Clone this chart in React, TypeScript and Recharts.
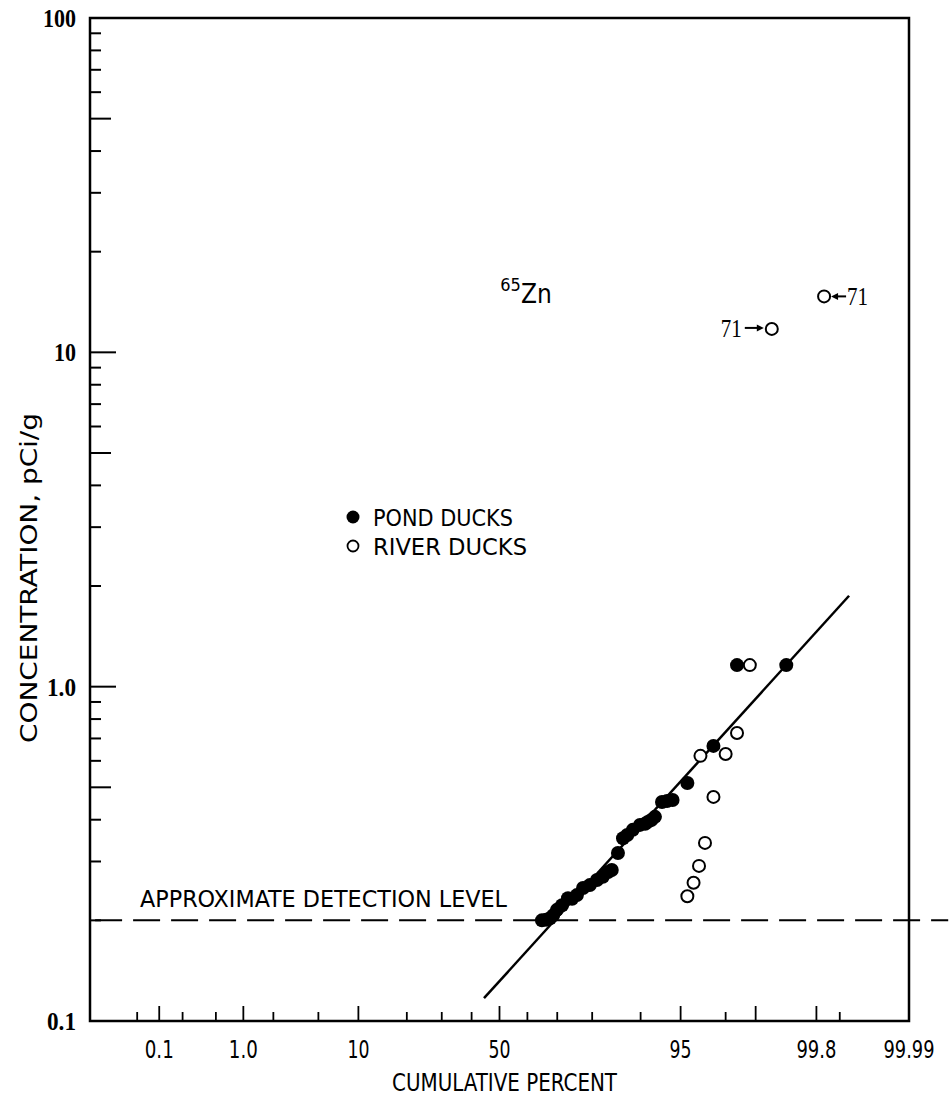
import React from "react";
import {
  ScatterChart,
  Scatter,
  XAxis,
  YAxis,
  ReferenceLine,
  ReferenceArea,
  ReferenceDot,
  Legend,
} from "recharts";

// cumulative percent (probability scale) vs 65Zn concentration, pCi/g
const pondPercent = [
  65.0, 66.4, 67.7, 68.7, 69.9, 71.5, 73.3, 74.5, 75.9, 77.6, 79.4, 81.2, 82.6, 83.8, 84.6,
  85.9, 86.9, 87.7, 88.7, 89.9, 90.7, 91.1, 91.6, 92.1, 93.0, 93.6, 94.2, 95.6, 97.4, 98.45, 99.54,
];
const pondConc = [
  0.2, 0.201, 0.203, 0.207, 0.215, 0.222, 0.233, 0.232, 0.238, 0.25, 0.255, 0.264, 0.27, 0.279, 0.283,
  0.318, 0.352, 0.36, 0.373, 0.386, 0.389, 0.394, 0.399, 0.408, 0.452, 0.455, 0.458, 0.515, 0.665, 1.16, 1.16,
];

const riverPercent = [95.6, 96.1, 96.5, 96.9, 97.4, 96.6, 98.0, 98.45, 98.85, 99.33, 99.84];
const riverConc = [0.236, 0.259, 0.291, 0.341, 0.468, 0.621, 0.629, 0.727, 1.16, 11.75, 14.7];

const fitPercent = [44.4, 99.925];
const fitConc = [0.117, 1.87];

const detectionLevel = 0.2;
const detectionSpan = [0.012, 99.9977];

const xDomainPercent = [0.01, 99.99];
const xTickPercents = [0.05, 0.1, 0.2, 0.5, 1, 2, 5, 10, 20, 30, 40, 50, 60, 70, 80, 90, 95, 98, 99, 99.8, 99.9, 99.99];
const xTickLabels: Record<string, string> = {
  "0.1": "0.1",
  "1": "1.0",
  "10": "10",
  "50": "50",
  "95": "95",
  "99.8": "99.8",
  "99.99": "99.99",
};
const xLongTicks = [0.1, 1, 10, 50, 95, 99, 99.8];

const yTicks = [
  0.1, 0.2, 0.3, 0.4, 0.5, 0.6, 0.7, 0.8, 0.9,
  1, 2, 3, 4, 5, 6, 7, 8, 9,
  10, 20, 30, 40, 50, 60, 70, 80, 90, 100,
];
const yTickLabels: Record<string, string> = { "0.1": "0.1", "1": "1.0", "10": "10", "100": "100" };

const legendNames = ["POND DUCKS", "RIVER DUCKS"];

const riverNotes = [
  { index: 9, text: "71", side: "left" },
  { index: 10, text: "71", side: "right" },
];
const isotopeAt = { percent: 50.3, conc: 14.0 };

const NARROW = '"Liberation Sans Narrow", "DejaVu Sans Condensed", "Arial Narrow", sans-serif';
const SERIF = '"Liberation Serif", "DejaVu Serif", serif';

// inverse of the standard normal CDF (Acklam)
function probit(p: number) {
  const a = [-39.69683028665376, 220.9460984245205, -275.9285104469687, 138.357751867269, -30.66479806614716, 2.506628277459239];
  const b = [-54.47609879822406, 161.5858368580409, -155.6989798598866, 66.80131188771972, -13.28068155288572];
  const c = [-0.007784894002430293, -0.3223964580411365, -2.400758277161838, -2.549732539343734, 4.374664141464968, 2.938163982698783];
  const d = [0.007784695709041462, 0.3224671290700398, 2.445134137142996, 3.754408661907416];
  const lo = 0.02425;
  if (p < lo || p > 1 - lo) {
    const q = Math.sqrt(-2 * Math.log(p < lo ? p : 1 - p));
    const v =
      (((((c[0] * q + c[1]) * q + c[2]) * q + c[3]) * q + c[4]) * q + c[5]) /
      ((((d[0] * q + d[1]) * q + d[2]) * q + d[3]) * q + 1);
    return p < lo ? v : -v;
  }
  const q = p - 0.5;
  const r = q * q;
  return (
    ((((((a[0] * r + a[1]) * r + a[2]) * r + a[3]) * r + a[4]) * r + a[5]) * q) /
    (((((b[0] * r + b[1]) * r + b[2]) * r + b[3]) * r + b[4]) * r + 1)
  );
}
const z = (pct: number) => probit(pct / 100);

const pondData = pondPercent.map((p, i) => ({ z: z(p), conc: pondConc[i] }));
const riverData = riverPercent.map((p, i) => ({ z: z(p), conc: riverConc[i] }));
const fitData = fitPercent.map((p, i) => ({ z: z(p), conc: fitConc[i] }));
const xTicks = xTickPercents.map(z);
const xDomain = xDomainPercent.map(z);

// rough glyph widths for the condensed look of the scanned lettering
const squeeze = (s: string, digit: number, dot: number) =>
  s.split("").reduce((w, ch) => w + (ch === "." ? dot : digit), 0);

const PercentTick = ({ x, y, payload }: any) => {
  const i = xTicks.findIndex((t) => Math.abs(t - payload.value) < 1e-9);
  const pct = xTickPercents[i];
  const label = xTickLabels[String(pct)];
  const len = xLongTicks.includes(pct) ? 15 : 9;
  return (
    <g>
      <line x1={x} x2={x} y1={y} y2={y - len} stroke="#000" strokeWidth={1.8} />
      {label ? (
        <text
          x={x}
          y={y + 37}
          textAnchor="middle"
          fontFamily={NARROW}
          fontSize={24}
          textLength={squeeze(label, 11, 7)}
          lengthAdjust="spacingAndGlyphs"
          fill="#000"
        >
          {label}
        </text>
      ) : null}
    </g>
  );
};

const ConcTick = ({ x, y, payload }: any) => {
  const v = payload.value;
  const mant = v / Math.pow(10, Math.floor(Math.log10(v) + 1e-9));
  const len = Math.abs(mant - 1) < 1e-6 ? 26 : Math.abs(mant - 5) < 1e-6 ? 21 : 11;
  const label = yTickLabels[String(v)];
  return (
    <g>
      <line x1={x} x2={x + len} y1={y} y2={y} stroke="#000" strokeWidth={2} />
      {label ? (
        <text
          x={x - 14}
          y={y}
          dy="0.36em"
          textAnchor="end"
          fontFamily={SERIF}
          fontWeight={700}
          fontSize={25}
          textLength={squeeze(label, 11, 7)}
          lengthAdjust="spacingAndGlyphs"
          fill="#000"
        >
          {label}
        </text>
      ) : null}
    </g>
  );
};

const FilledDot = ({ cx, cy }: any) => <circle cx={cx} cy={cy} r={7} fill="#000" />;
const OpenDot = ({ cx, cy }: any) => (
  <circle cx={cx} cy={cy} r={6} fill="#fff" stroke="#000" strokeWidth={2} />
);

const DuckLegend = ({ payload }: any) => {
  const items = (payload || []).filter((e: any) => legendNames.includes(e.value));
  return (
    <svg width={200} height={70}>
      {items.map((entry: any, i: number) => {
        const cy = 17 + i * 29;
        return (
          <g key={entry.value}>
            {i === 0 ? (
              <circle cx={12} cy={cy} r={6.5} fill="#000" />
            ) : (
              <circle cx={12} cy={cy} r={5.5} fill="#fff" stroke="#000" strokeWidth={1.8} />
            )}
            <text
              x={32}
              y={cy + 8.5}
              fontFamily={NARROW}
              fontSize={23}
              textLength={i === 0 ? 140 : 154}
              lengthAdjust="spacingAndGlyphs"
              fill="#000"
            >
              {entry.value}
            </text>
          </g>
        );
      })}
    </svg>
  );
};

const NoteShape = (side: string, text: string) => ({ cx, cy }: any) =>
  side === "left" ? (
    <g>
      <text
        x={cx - 30}
        y={cy + 8}
        textAnchor="end"
        fontFamily={SERIF}
        fontSize={26}
        textLength={21}
        lengthAdjust="spacingAndGlyphs"
        fill="#000"
      >
        {text}
      </text>
      <line x1={cx - 27} x2={cx - 13} y1={cy - 1} y2={cy - 1} stroke="#000" strokeWidth={2} />
      <polygon points={`${cx - 8},${cy - 1} ${cx - 15},${cy - 4.5} ${cx - 15},${cy + 2.5}`} fill="#000" />
    </g>
  ) : (
    <g>
      <polygon points={`${cx + 7},${cy} ${cx + 14},${cy - 3.5} ${cx + 14},${cy + 3.5}`} fill="#000" />
      <line x1={cx + 12} x2={cx + 22} y1={cy} y2={cy} stroke="#000" strokeWidth={2} />
      <text
        x={cx + 23}
        y={cy + 9}
        fontFamily={SERIF}
        fontSize={26}
        textLength={21}
        lengthAdjust="spacingAndGlyphs"
        fill="#000"
      >
        {text}
      </text>
    </g>
  );

const IsotopeShape = ({ cx, cy }: any) => (
  <text x={cx} y={cy} fontFamily={NARROW} fill="#000">
    <tspan fontSize={18} dy={-12}>65</tspan>
    <tspan fontSize={26} dy={12}>Zn</tspan>
  </text>
);

export default function App() {
  return (
    <div style={{ position: "absolute", left: 0, top: 0, width: 950, height: 1103, background: "#fff" }}>
      <ScatterChart width={950} height={1103} margin={{ top: 18, right: 41, bottom: 22, left: 30 }}>
        <XAxis
          type="number"
          dataKey="z"
          domain={xDomain}
          ticks={xTicks}
          interval={0}
          allowDataOverflow
          axisLine={false}
          tickSize={0}
          tickMargin={0}
          height={60}
          tick={<PercentTick />}
          label={{
            content: ({ viewBox }: any) => (
              <text
                x={viewBox.x + viewBox.width / 2 + 5}
                y={viewBox.y + 70}
                textAnchor="middle"
                fontFamily={NARROW}
                fontSize={24}
                textLength={225}
                lengthAdjust="spacingAndGlyphs"
                fill="#000"
              >
                CUMULATIVE PERCENT
              </text>
            ),
          }}
        />
        <YAxis
          type="number"
          dataKey="conc"
          scale="log"
          domain={[0.1, 100]}
          ticks={yTicks}
          interval={0}
          allowDataOverflow
          axisLine={false}
          tickSize={0}
          tickMargin={0}
          width={60}
          tick={<ConcTick />}
          label={{
            content: ({ viewBox }: any) => {
              const lx = viewBox.x + 7;
              const ly = viewBox.y + 560;
              return (
                <text
                  x={lx}
                  y={ly}
                  transform={`rotate(-90, ${lx}, ${ly})`}
                  textAnchor="middle"
                  fontFamily={NARROW}
                  fontSize={23}
                  textLength={330}
                  lengthAdjust="spacingAndGlyphs"
                  fill="#000"
                >
                  CONCENTRATION, pCi/g
                </text>
              );
            },
          }}
        />
        <ReferenceArea
          x1={xDomain[0]}
          x2={xDomain[1]}
          y1={0.1}
          y2={100}
          fill="none"
          stroke="#000"
          strokeWidth={2.5}
          ifOverflow="visible"
        />
        <ReferenceLine
          segment={[
            { x: z(detectionSpan[0]), y: detectionLevel },
            { x: z(detectionSpan[1]), y: detectionLevel },
          ]}
          stroke="#000"
          strokeWidth={2}
          strokeDasharray="27 11"
          ifOverflow="visible"
          label={{
            content: ({ viewBox }: any) => (
              <text
                x={140}
                y={viewBox.y - 13}
                fontFamily={NARROW}
                fontSize={23}
                textLength={367}
                lengthAdjust="spacingAndGlyphs"
                fill="#000"
              >
                APPROXIMATE DETECTION LEVEL
              </text>
            ),
          }}
        />
        <Scatter
          name="fit"
          data={fitData}
          line={{ stroke: "#000", strokeWidth: 2.5 }}
          lineType="joint"
          shape={() => <g />}
          legendType="none"
          isAnimationActive={false}
        />
        <Scatter name="POND DUCKS" data={pondData} shape={<FilledDot />} isAnimationActive={false} />
        <Scatter name="RIVER DUCKS" data={riverData} shape={<OpenDot />} isAnimationActive={false} />
        {riverNotes.map((n) => (
          <ReferenceDot
            key={n.index}
            x={riverData[n.index].z}
            y={riverData[n.index].conc}
            r={1}
            shape={NoteShape(n.side, n.text)}
          />
        ))}
        <ReferenceDot x={z(isotopeAt.percent)} y={isotopeAt.conc} r={1} shape={IsotopeShape} />
        <Legend
          layout="vertical"
          verticalAlign="middle"
          align="center"
          content={<DuckLegend />}
          wrapperStyle={{ left: 341, top: 500, width: 200, height: 70 }}
        />
      </ScatterChart>
    </div>
  );
}
